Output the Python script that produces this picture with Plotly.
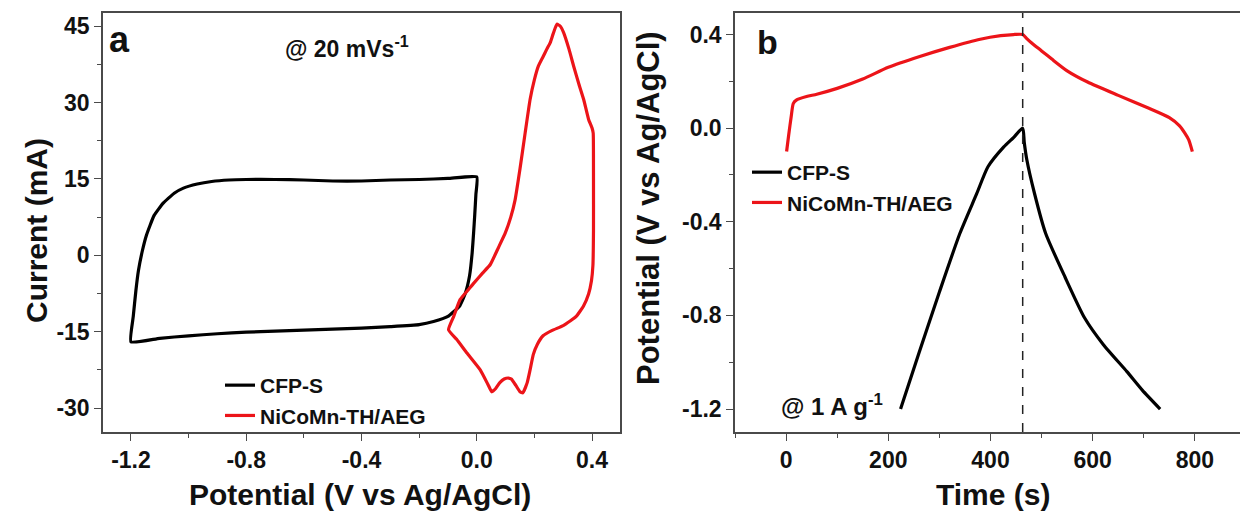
import plotly.graph_objects as go

# ---------------- data ----------------
# Panel a: cyclic voltammetry @ 20 mV/s
cfp_cv_potential = [-1.200, -1.192, -1.183, -1.174, -1.160, -1.146, -1.120, -1.089, -1.050, -1.018,
                    -0.970, -0.920, -0.860, -0.800, -0.700, -0.600, -0.500, -0.400, -0.300, -0.200,
                    -0.100, 0.000, -0.003, -0.007, -0.011, -0.016, -0.025, -0.040, -0.060, -0.100,
                    -0.150, -0.200, -0.300, -0.400, -0.500, -0.600, -0.700, -0.800, -0.900, -1.000,
                    -1.100, -1.200]
cfp_cv_current = [-17.0, -12.0, -7.0, -3.0, 1.0, 4.0, 7.8, 10.2, 12.2, 13.2,
                  14.0, 14.5, 14.8, 14.9, 14.9, 14.8, 14.6, 14.6, 14.8, 14.9,
                  15.1, 15.4, 12.0, 8.0, 4.4, 0.5, -4.0, -7.5, -10.0, -12.0,
                  -13.0, -13.6, -14.0, -14.3, -14.5, -14.7, -14.9, -15.1, -15.4, -15.8,
                  -16.3, -17.0]

ni_cv_potential = [-0.098, -0.080, -0.058, -0.030, -0.011, 0.020, 0.047, 0.075, 0.099, 0.118,
                   0.133, 0.150, 0.168, 0.185, 0.200, 0.214, 0.230, 0.243, 0.255, 0.265,
                   0.278, 0.290, 0.301, 0.320, 0.336, 0.355, 0.371, 0.388, 0.400, 0.404,
                   0.405, 0.405, 0.403, 0.398, 0.388, 0.370, 0.345, 0.324, 0.300, 0.260,
                   0.230, 0.210, 0.196, 0.185, 0.175, 0.160, 0.150, 0.135, 0.120, 0.110,
                   0.095, 0.080, 0.065, 0.052, 0.040, 0.012, -0.034, -0.070, -0.098]
ni_cv_current = [-14.6, -12.0, -8.7, -6.8, -5.5, -3.5, -1.8, 1.5, 4.4, 7.5,
                 10.9, 17.0, 24.1, 30.6, 34.5, 37.2, 39.0, 40.5, 41.8, 43.5,
                 45.4, 45.0, 43.8, 40.5, 37.2, 33.5, 30.6, 26.7, 25.0, 24.0,
                 15.0, 5.0, -2.0, -5.0, -7.6, -10.0, -12.0, -12.9, -13.8, -14.8,
                 -15.8, -17.5, -19.5, -22.5, -25.0, -27.0, -26.8, -25.5, -24.3, -24.1,
                 -24.3, -25.0, -26.2, -26.8, -25.5, -22.5, -19.2, -16.5, -14.6]

# Panel b: galvanostatic charge/discharge @ 1 A/g
cfp_gcd_time = [224, 260, 300, 340, 373, 395, 426, 445, 463,
                466, 471, 486, 508, 546, 584, 621, 667, 697, 732]
cfp_gcd_potential = [-1.20, -0.96, -0.70, -0.45, -0.28, -0.165, -0.08, -0.04, 0.00,
                     -0.06, -0.134, -0.278, -0.45, -0.637, -0.81, -0.925, -1.04, -1.119, -1.20]

ni_gcd_time = [1, 5, 10, 14, 20, 40, 60, 100, 150, 200, 260, 320, 380, 420, 445, 463,
               470, 480, 500, 520, 550, 590, 650, 710, 750, 770, 780, 788, 795]
ni_gcd_potential = [-0.10, -0.03, 0.05, 0.105, 0.12, 0.135, 0.145, 0.17, 0.21, 0.26, 0.305, 0.345, 0.38, 0.395, 0.40, 0.40,
                    0.385, 0.365, 0.33, 0.295, 0.245, 0.197, 0.14, 0.085, 0.045, 0.01, -0.02, -0.05, -0.10]

switch_time = 463

series_names = ["CFP-S", "NiCoMn-TH/AEG"]

a_xticks = [-1.2, -0.8, -0.4, 0.0, 0.4]
a_xticklabels = ["-1.2", "-0.8", "-0.4", "0.0", "0.4"]
a_yticks = [-30, -15, 0, 15, 30, 45]
a_yticklabels = ["-30", "-15", "0", "15", "30", "45"]
b_xticks = [0, 200, 400, 600, 800]
b_xticklabels = ["0", "200", "400", "600", "800"]
b_yticks = [-1.2, -0.8, -0.4, 0.0, 0.4]
b_yticklabels = ["-1.2", "-0.8", "-0.4", "0.0", "0.4"]

# ---------------- style ----------------
PAGE_W, PAGE_H = 1248, 515
OFF = 8  # default body margin of the html page
W, H = PAGE_W - OFF, PAGE_H - OFF
BLACK = "#000000"
RED = "#ec1419"
FONT = "Liberation Sans"
LW = 3.2


def px_x(p):
    return (p - OFF) / W


def px_y(p):
    return 1 - (p - OFF) / H


fig = go.Figure()

fig.add_trace(go.Scatter(x=cfp_cv_potential, y=cfp_cv_current, mode="lines", name=series_names[0],
                         line=dict(color=BLACK, width=LW, shape="spline", smoothing=0.4),
                         xaxis="x", yaxis="y", legend="legend", legendgroup="a1"))
fig.add_trace(go.Scatter(x=ni_cv_potential, y=ni_cv_current, mode="lines", name=series_names[1],
                         line=dict(color=RED, width=LW, shape="spline", smoothing=0.4),
                         xaxis="x", yaxis="y", legend="legend", legendgroup="a2"))
fig.add_trace(go.Scatter(x=cfp_gcd_time, y=cfp_gcd_potential, mode="lines", name=series_names[0],
                         line=dict(color=BLACK, width=LW, shape="spline", smoothing=0.6),
                         xaxis="x2", yaxis="y2", legend="legend2", legendgroup="b1"))
fig.add_trace(go.Scatter(x=ni_gcd_time, y=ni_gcd_potential, mode="lines", name=series_names[1],
                         line=dict(color=RED, width=LW, shape="spline", smoothing=0.6),
                         xaxis="x2", yaxis="y2", legend="legend2", legendgroup="b2"))

fig.add_vline(x=switch_time, xref="x2", line=dict(color="#222222", width=1.5, dash="dash"))

axis_common = dict(
    showline=True, mirror=True, linecolor="#4a4a4a", linewidth=1.5,
    ticks="outside", ticklen=7, tickwidth=1.3, tickcolor="#4a4a4a",
    showgrid=False, zeroline=False,
    tickfont=dict(family=FONT, size=23, color="#111111", weight="bold"),
    tickmode="array",
)
minor_style = dict(ticks="outside", ticklen=4, tickcolor="#4a4a4a", tickwidth=1.2)

ydom = [px_y(432), px_y(13)]

legend_font = dict(family=FONT, size=21, color="#111111", weight="bold")

fig.update_layout(
    width=W, height=H,
    margin=dict(l=0, r=0, t=0, b=0),
    paper_bgcolor="white", plot_bgcolor="white",
    font=dict(family=FONT, weight="bold", color="#111111"),
    xaxis=dict(domain=[px_x(103), px_x(620)], range=[-1.297, 0.497], anchor="y",
               tickvals=a_xticks, ticktext=a_xticklabels,
               minor=dict(tickvals=[-1.0, -0.6, -0.2, 0.2], **minor_style),
               **axis_common),
    yaxis=dict(domain=ydom, range=[-34.7, 47.6], anchor="x",
               tickvals=a_yticks, ticktext=a_yticklabels,
               minor=dict(tickvals=[-22.5, -7.5, 7.5, 22.5, 37.5], **minor_style),
               **axis_common),
    xaxis2=dict(domain=[px_x(735), px_x(1246)], range=[-100, 900], anchor="y2",
                tickvals=b_xticks, ticktext=b_xticklabels,
                minor=dict(tickvals=[-100, 100, 300, 500, 700, 900], **minor_style),
                **axis_common),
    yaxis2=dict(domain=ydom, range=[-1.298, 0.492], anchor="x2",
                tickvals=b_yticks, ticktext=b_yticklabels,
                minor=dict(tickvals=[-1.0, -0.6, -0.2, 0.2], **minor_style),
                **axis_common),
    legend=dict(x=px_x(220), y=px_y(365), xanchor="left", yanchor="top",
                bgcolor="rgba(0,0,0,0)", tracegroupgap=0, font=legend_font),
    legend2=dict(x=px_x(747), y=px_y(152), xanchor="left", yanchor="top",
                 bgcolor="rgba(0,0,0,0)", tracegroupgap=0, font=legend_font),
    showlegend=True,
)

ann_font = dict(family=FONT, color="#111111", weight="bold")
annotations = [
    dict(text="a", x=px_x(119), y=px_y(40), size=36),
    dict(text="b", x=px_x(767), y=px_y(42), size=34),
    dict(text="@ 20 mVs<sup>-1</sup>", x=px_x(347), y=px_y(47), size=23),
    dict(text="@ 1 A g<sup>-1</sup>", x=px_x(832), y=px_y(405), size=24),
    dict(text="Potential (V vs Ag/AgCl)", x=px_x(360), y=px_y(494), size=30),
    dict(text="Time (s)", x=px_x(993), y=px_y(494), size=30),
    dict(text="Current (mA)", x=px_x(36), y=px_y(231), size=30, angle=-90),
    dict(text="Potential (V vs Ag/AgCl)", x=px_x(648), y=px_y(208), size=31, angle=-90),
]
for a in annotations:
    fig.add_annotation(text=a["text"], x=a["x"], y=a["y"], xref="paper", yref="paper",
                       xanchor="center", yanchor="middle", showarrow=False,
                       textangle=a.get("angle", 0),
                       font=dict(size=a["size"], **ann_font))

fig.write_html("out.html")
